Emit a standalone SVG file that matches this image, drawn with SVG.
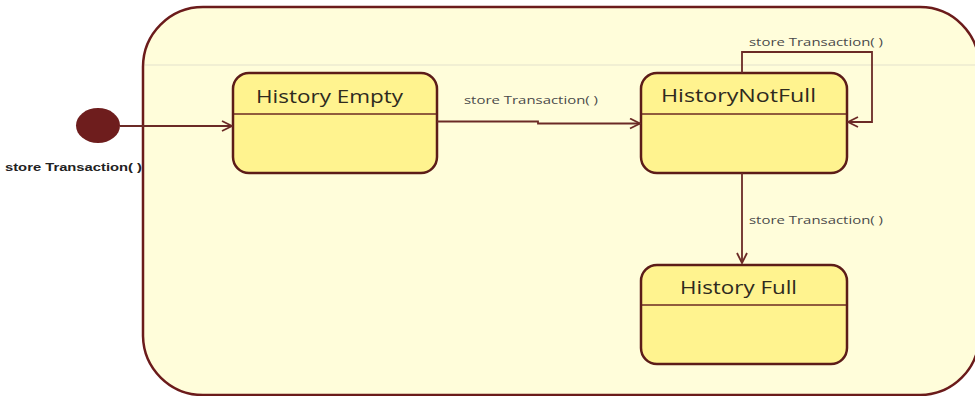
<svg xmlns="http://www.w3.org/2000/svg" width="975" height="396" viewBox="0 0 975 396">
  <style>
    .state { fill: #fff38f; stroke: #5c1c18; stroke-width: 2.5; }
    .divider { stroke: #6b2a22; stroke-width: 1.5; }
    .title { font-family: "Open Sans", "Liberation Sans", sans-serif; font-size: 18px; fill: #2e2a1e; }
    .lbl { font-family: "Open Sans", "Liberation Sans", sans-serif; font-size: 10.5px; fill: #4a4a4a; }
    .edge { fill: none; stroke: #6b2a26; stroke-width: 1.8; }
  </style>
  <defs>
    <marker id="open" viewBox="0 0 12 12" refX="11" refY="6" markerWidth="12" markerHeight="12" markerUnits="userSpaceOnUse" orient="auto">
      <path d="M1,1 L11,6 L1,11" fill="none" stroke="#6b2a26" stroke-width="1.8"/>
    </marker>
  </defs>

  <rect width="975" height="396" fill="#ffffff"/>

  <!-- composite state container -->
  <g id="container">
    <path d="M143,336 L143,67 A60,60 0 0 1 203,7 L920,7 A59,59 0 0 1 979,66 L979,336 A59,59 0 0 1 920,395 L203,395 A60,60 0 0 1 143,336 Z" fill="#fffdda" stroke="#6b1b1b" stroke-width="2.5"/>
    <line x1="145" y1="65" x2="977" y2="65" stroke="#e4e2cc" stroke-width="1.2"/>
  </g>

  <!-- initial pseudo-state -->
  <g id="initial">
    <ellipse cx="98" cy="125.5" rx="22" ry="17.5" fill="#6e1d1d"/>
    <text x="5" y="171" font-family="'Liberation Sans', sans-serif" font-size="10.5" font-weight="bold" fill="#222" textLength="137" lengthAdjust="spacingAndGlyphs">store Transaction( )</text>
  </g>

  <g id="history-empty">
    <rect class="state" x="233" y="73" width="204" height="100" rx="16"/>
    <line class="divider" x1="234" y1="114" x2="436" y2="114"/>
    <text class="title" x="256" y="103" textLength="147" lengthAdjust="spacingAndGlyphs">History Empty</text>
  </g>

  <g id="history-not-full">
    <rect class="state" x="641" y="73" width="206" height="100" rx="16"/>
    <line class="divider" x1="642" y1="114" x2="846" y2="114"/>
    <text class="title" x="661" y="102" textLength="155" lengthAdjust="spacingAndGlyphs">HistoryNotFull</text>
  </g>

  <g id="history-full">
    <rect class="state" x="641" y="265" width="206" height="99" rx="16"/>
    <line class="divider" x1="642" y1="305" x2="846" y2="305"/>
    <text class="title" x="680" y="294" textLength="117" lengthAdjust="spacingAndGlyphs">History Full</text>
  </g>

  <!-- transitions -->
  <g id="connectors">
    <line class="edge" x1="120" y1="126" x2="232" y2="126" marker-end="url(#open)"/>
    <polyline class="edge" points="437,121.5 538,121.5 538,123.5 640,123.5" marker-end="url(#open)"/>
    <polyline class="edge" points="742,73 742,52 872,52 872,122 848,122" marker-end="url(#open)"/>
    <line class="edge" x1="742" y1="173" x2="742" y2="263" marker-end="url(#open)"/>

    <text class="lbl" x="464" y="104" textLength="134" lengthAdjust="spacingAndGlyphs">store Transaction( )</text>
    <text class="lbl" x="749" y="46" textLength="134" lengthAdjust="spacingAndGlyphs">store Transaction( )</text>
    <text class="lbl" x="749" y="224" textLength="134" lengthAdjust="spacingAndGlyphs">store Transaction( )</text>
  </g>
</svg>
